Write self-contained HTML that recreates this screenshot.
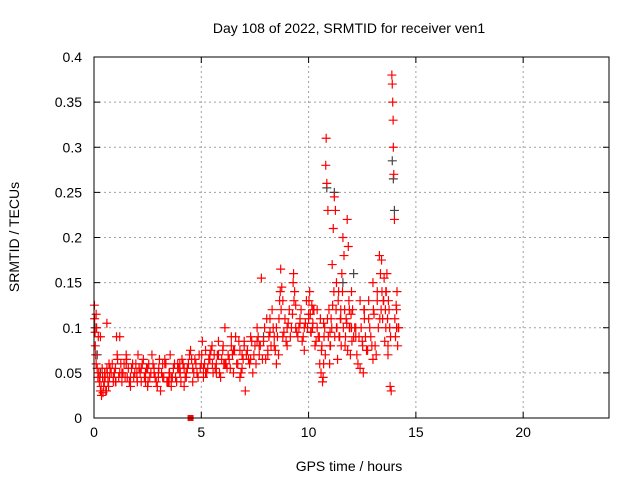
<!DOCTYPE html>
<html><head><meta charset="utf-8"><style>
body{margin:0;background:#fff;}
svg{display:block;font-family:"Liberation Sans",sans-serif;}
</style></head><body>
<svg id="chart" width="640" height="480" viewBox="0 0 640 480">
<rect width="640" height="480" fill="#fff"/>
<text x="349" y="33" font-size="14" text-anchor="middle">Day 108 of 2022, SRMTID for receiver ven1</text>
<text transform="translate(19,237) rotate(-90)" font-size="14" text-anchor="middle">SRMTID / TECUs</text>
<text x="349" y="471" font-size="14" text-anchor="middle">GPS time / hours</text>
<g id="grid"></g><g id="axes"></g><g id="marks"></g>
<rect x="94" y="57" width="515" height="361" fill="none" stroke="#000" stroke-width="1"/>
</svg>
<script>
const xTicks=[0,5,10,15,20];
const yTicks=[0,0.05,0.1,0.15,0.2,0.25,0.3,0.35,0.4];
const yTickLabels=["0","0.05","0.1","0.15","0.2","0.25","0.3","0.35","0.4"];
const hours=[0.02,0.03,0.05,0.06,0.08,0.1,0.12,0.15,0.18,0.2,0.25,0.3,0.35,0.4,0.45,0.5,0.55,0.6,0.65,0.7,0.8,0.9,1.0,1.05,1.1,1.2,1.3,1.4,1.5,1.55,1.6,1.7,1.8,1.9,2.0,2.05,2.1,2.2,2.3,2.4,2.5,2.55,2.6,2.7,2.8,2.9,3.0,3.05,3.1,3.2,3.3,3.4,3.5,3.55,3.6,3.7,3.8,3.9,4.0,4.05,4.1,4.2,4.3,4.4,4.5,4.6,4.7,4.8,4.9,5.0,5.05,5.1,5.2,5.3,5.4,5.5,5.55,5.6,5.7,5.8,5.9,6.0,6.05,6.1,6.2,6.25,6.3,6.4,6.5,6.6,6.7,6.8,6.9,7.0,7.05,7.1,7.2,7.3,7.4,7.5,7.6,7.7,7.8,7.9,8.0,8.05,8.1,8.2,8.3,8.4,8.5,8.6,8.65,8.7,8.75,8.8,8.9,9.0,9.1,9.2,9.3,9.35,9.4,9.5,9.6,9.7,9.8,9.9,10.0,10.05,10.1,10.15,10.2,10.3,10.4,10.5,10.55,10.6,10.65,10.7,10.75,10.8,10.82,10.85,10.9,10.95,11.0,11.05,11.1,11.15,11.2,11.25,11.3,11.35,11.4,11.45,11.5,11.55,11.6,11.65,11.7,11.75,11.8,11.85,11.9,11.95,12.0,12.05,12.1,12.2,12.3,12.4,12.5,12.55,12.6,12.7,12.8,12.9,13.0,13.05,13.1,13.2,13.3,13.35,13.4,13.45,13.5,13.55,13.6,13.65,13.7,13.75,13.8,13.85,13.88,13.9,13.92,13.94,13.95,13.97,14.0,14.02,14.05,14.1,14.15,14.2,0.1,0.5,1.0,1.5,2.0,2.5,3.0,3.5,4.0,5.2,5.8,6.4,7.0,7.6,8.2,8.8,9.4,10.2,11.3,12.2,12.8,13.6,14.1,1.2,2.2,3.3,4.2,6.8,8.5,9.8,10.7,11.9,12.4,13.0];
const srmtid=[0.125,0.11,0.095,0.08,0.07,0.06,0.1,0.055,0.045,0.09,0.04,0.03,0.025,0.045,0.035,0.05,0.03,0.055,0.04,0.06,0.05,0.045,0.055,0.09,0.065,0.05,0.04,0.06,0.07,0.045,0.055,0.035,0.06,0.05,0.045,0.07,0.055,0.04,0.065,0.05,0.035,0.06,0.045,0.07,0.055,0.04,0.05,0.065,0.03,0.045,0.06,0.04,0.05,0.07,0.035,0.055,0.045,0.06,0.05,0.04,0.065,0.055,0.045,0.06,0.075,0.055,0.065,0.05,0.07,0.06,0.085,0.045,0.075,0.055,0.065,0.08,0.05,0.07,0.06,0.085,0.045,0.075,0.06,0.1,0.055,0.07,0.065,0.08,0.05,0.09,0.06,0.075,0.055,0.085,0.03,0.07,0.065,0.09,0.05,0.08,0.1,0.07,0.155,0.085,0.065,0.11,0.075,0.095,0.12,0.08,0.1,0.07,0.13,0.165,0.145,0.09,0.11,0.08,0.12,0.1,0.16,0.14,0.125,0.09,0.11,0.085,0.1,0.13,0.115,0.14,0.095,0.125,0.105,0.08,0.12,0.09,0.11,0.075,0.04,0.06,0.1,0.28,0.31,0.26,0.23,0.12,0.08,0.11,0.17,0.21,0.245,0.23,0.1,0.065,0.14,0.09,0.12,0.16,0.2,0.18,0.08,0.11,0.22,0.19,0.1,0.07,0.14,0.12,0.09,0.1,0.06,0.13,0.085,0.05,0.11,0.075,0.13,0.09,0.065,0.115,0.08,0.14,0.18,0.16,0.175,0.11,0.13,0.085,0.1,0.16,0.07,0.12,0.035,0.03,0.38,0.37,0.35,0.33,0.3,0.27,0.22,0.11,0.09,0.12,0.08,0.1,0.115,0.05,0.04,0.06,0.05,0.055,0.045,0.04,0.06,0.05,0.07,0.09,0.08,0.085,0.11,0.13,0.1,0.12,0.15,0.09,0.11,0.14,0.1,0.09,0.055,0.065,0.035,0.045,0.06,0.075,0.105,0.12,0.055,0.15,0.09,0.06,0.165];
const extraHours=[0.22,0.28,0.33,0.38,0.42,0.48,0.52,0.58,0.62,0.68,0.72,0.75,0.85,0.95,1.02,1.08,1.15,1.25,1.35,1.45,1.52,1.65,1.75,1.85,1.95,2.02,2.15,2.25,2.35,2.45,2.52,2.65,2.75,2.85,2.95,3.02,3.15,3.25,3.35,3.45,3.52,3.65,3.75,3.85,3.95,4.02,4.15,4.25,4.35,4.45,4.55,4.65,4.75,4.85,4.95,5.02,5.15,5.25,5.35,5.45,5.52,5.65,5.75,5.85,5.95,6.02,6.15,6.35,6.45,6.55,6.65,6.75,6.85,6.95,7.15,7.25,7.35,7.45,7.55,7.65,7.75,7.85,7.95,8.15,8.25,8.35,8.45,8.55,8.62,8.68,8.72,8.85,8.95,9.05,9.15,9.25,9.28,9.32,9.45,9.55,9.65,9.75,9.85,9.95,10.02,10.08,10.12,10.18,10.25,10.35,10.45,10.52,10.58,10.62,10.68,10.72,10.78,10.88,10.92,10.98,11.02,11.08,11.12,11.18,11.22,11.28,11.32,11.38,11.42,11.48,11.52,11.58,11.62,11.68,11.72,11.78,11.82,11.88,11.92,11.98,12.02,12.15,12.25,12.35,12.45,12.52,12.58,12.65,12.75,12.85,12.95,13.02,13.15,13.25,13.32,13.38,13.42,13.48,13.52,13.58,13.62,13.68,13.72,13.78,13.82,14.08,14.12,14.18,0.3,0.6,0.9,1.3,1.7,2.1,2.4,2.8,3.2,3.6,3.9,4.3,4.6,5.1,5.4,5.7,6.1,6.5,6.9,7.3,7.7,8.1,8.4,9.0,9.6,10.0,10.4,11.0,11.5,12.0,12.6,13.2,13.7,14.0];
const extraSrmtid=[0.05,0.045,0.035,0.055,0.028,0.04,0.045,0.03,0.05,0.035,0.045,0.055,0.06,0.05,0.04,0.07,0.045,0.06,0.05,0.045,0.065,0.04,0.055,0.045,0.06,0.04,0.05,0.06,0.045,0.055,0.04,0.05,0.06,0.045,0.035,0.055,0.05,0.045,0.06,0.04,0.05,0.045,0.06,0.04,0.055,0.05,0.06,0.045,0.055,0.07,0.065,0.05,0.06,0.045,0.055,0.07,0.06,0.05,0.065,0.075,0.06,0.055,0.07,0.05,0.065,0.08,0.06,0.055,0.07,0.075,0.06,0.085,0.05,0.065,0.075,0.06,0.085,0.07,0.06,0.09,0.08,0.065,0.1,0.09,0.08,0.1,0.075,0.09,0.11,0.14,0.12,0.095,0.085,0.105,0.09,0.115,0.15,0.13,0.095,0.1,0.12,0.09,0.105,0.1,0.13,0.115,0.095,0.1,0.12,0.085,0.09,0.06,0.05,0.08,0.045,0.09,0.07,0.11,0.09,0.06,0.08,0.1,0.125,0.14,0.09,0.12,0.1,0.13,0.09,0.11,0.08,0.14,0.1,0.12,0.09,0.105,0.075,0.13,0.1,0.115,0.085,0.1,0.07,0.09,0.1,0.08,0.12,0.09,0.075,0.1,0.08,0.12,0.07,0.1,0.11,0.12,0.14,0.13,0.155,0.12,0.14,0.11,0.13,0.1,0.09,0.125,0.14,0.1,0.09,0.105,0.04,0.05,0.045,0.055,0.04,0.05,0.06,0.045,0.055,0.05,0.04,0.055,0.07,0.05,0.06,0.075,0.07,0.065,0.08,0.07,0.09,0.1,0.105,0.11,0.1,0.095,0.11,0.1,0.12,0.13,0.08];
const grayHours=[0.05,0.15,0.3,10.85,11.2,13.9,13.95,14.0,12.1,11.6,7.9];
const graySrmtid=[0.1,0.07,0.05,0.255,0.25,0.285,0.265,0.23,0.16,0.15,0.09];
const X0=94,X1=609,Y0=418,Y1=57;
function xs(h){return X0+(h/24)*(X1-X0);}
function ys(v){return Y0-(v/0.4)*(Y0-Y1);}
const NS="http://www.w3.org/2000/svg";
const grid=document.getElementById('grid'),axes=document.getElementById('axes'),marks=document.getElementById('marks');
function mk(t,a,p){const e=document.createElementNS(NS,t);for(const k in a)e.setAttribute(k,a[k]);p.appendChild(e);return e;}
xTicks.forEach(t=>{const x=xs(t);
 if(t>0){const g=mk('line',{x1:x,x2:x,y1:Y0,y2:Y1,stroke:'#a0a0a0','stroke-dasharray':'2,3'},grid);
 
 }
 mk('line',{x1:x,x2:x,y1:Y0,y2:Y0-6,stroke:'#000'},axes);
 mk('line',{x1:x,x2:x,y1:Y1,y2:Y1+6,stroke:'#000'},axes);
 const l=mk('text',{x:x,y:Y0+19,'font-size':14,'text-anchor':'middle'},axes);l.textContent=t;
 
 });
yTicks.forEach((t,i)=>{const y=ys(t);
 if(t>0&&t<0.4){const g=mk('line',{x1:X0,x2:X1,y1:y,y2:y,stroke:'#a0a0a0','stroke-dasharray':'2,3'},grid);
 
 }
 mk('line',{x1:X0,x2:X0+6,y1:y,y2:y,stroke:'#000'},axes);
 mk('line',{x1:X1,x2:X1-6,y1:y,y2:y,stroke:'#000'},axes);
 const l=mk('text',{x:X0-12,y:y+5,'font-size':14,'text-anchor':'end'},axes);l.textContent=yTickLabels[i];
 
 });
function plus(h,v,c,name){const x=xs(h),y=ys(v);
 const p=mk('path',{d:`M${x-4.5},${y}H${x+4.5}M${x},${y-4.5}V${y+4.5}`,stroke:c,'stroke-width':1.2,fill:'none'},marks);
 
 }
grayHours.forEach((h,i)=>plus(h,graySrmtid[i],'#444','gray-point'));
hours.forEach((h,i)=>plus(h,srmtid[i],'#ff0000','srmtid-point'));
extraHours.forEach((h,i)=>plus(h,extraSrmtid[i],'#ff0000','srmtid-point'));
const sq=mk('rect',{x:xs(4.5)-3,y:ys(0)-3,width:6,height:6,fill:'#ff0000'},marks);


</script>
</body></html>
